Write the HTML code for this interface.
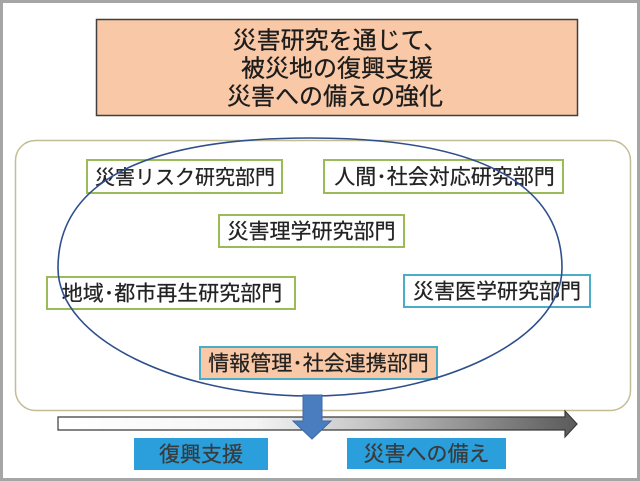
<!DOCTYPE html>
<html>
<head>
<meta charset="utf-8">
<style>
  html,body{margin:0;padding:0;background:#fff;}
  svg{display:block;}
  text{font-family:"Liberation Sans","Noto Sans CJK JP",sans-serif;}
</style>
</head>
<body>
<svg width="640" height="481" viewBox="0 0 640 481" xmlns="http://www.w3.org/2000/svg">
  <defs>
    <linearGradient id="g" gradientUnits="userSpaceOnUse" x1="58" y1="0" x2="577" y2="0">
      <stop offset="0" stop-color="#ffffff"/>
      <stop offset="0.38" stop-color="#f4f4f4"/>
      <stop offset="0.6" stop-color="#c4c4c4"/>
      <stop offset="1" stop-color="#5a5a5a"/>
    </linearGradient>
  </defs>
  <rect x="0" y="0" width="640" height="481" fill="#fff"/>
  <!-- outer frame -->
  <rect x="1.5" y="1.5" width="637" height="478" fill="none" stroke="#a6a6a6" stroke-width="3"/>

  <!-- title box -->
  <rect x="96.5" y="19.5" width="481" height="96" fill="#f9c8a6" stroke="#3f3f3f" stroke-width="1.5"/>
  <g fill="#1c1c1c" stroke="#1c1c1c" stroke-width="0.3" font-size="24">
    <text x="340" y="48.6" text-anchor="middle">災害研究を通じて、</text>
    <text x="337" y="76.6" text-anchor="middle">被災地の復興支援</text>
    <text x="335" y="104.6" text-anchor="middle">災害への備えの強化</text>
  </g>

  <!-- rounded container -->
  <rect x="15.5" y="140.5" width="615" height="270" rx="20" ry="20" fill="#fff" stroke="#c3bc94" stroke-width="1.5"/>

  <!-- department boxes -->
  <rect x="87" y="160" width="195" height="33" fill="#fff" stroke="#9bbb59" stroke-width="2"/>
  <rect x="324" y="160" width="239" height="33" fill="#fff" stroke="#9bbb59" stroke-width="2"/>
  <rect x="219" y="215" width="185" height="32" fill="#fff" stroke="#9bbb59" stroke-width="2"/>
  <rect x="47" y="277" width="248" height="32" fill="#fff" stroke="#9bbb59" stroke-width="2"/>
  <rect x="404" y="275" width="186" height="32" fill="#fff" stroke="#4bacc6" stroke-width="2"/>
  <rect x="200" y="347" width="237" height="32" fill="#f9c8a6" stroke="#4bacc6" stroke-width="2"/>

  <g fill="#222" stroke="#222" stroke-width="0.25" text-anchor="middle">
    <text x="185" y="184.1" font-size="20">災害リスク研究部門</text>
    <text x="444.5" y="184.1" font-size="21">人間･社会対応研究部門</text>
    <text x="311.5" y="238.6" font-size="21">災害理学研究部門</text>
    <text x="172" y="300.6" font-size="21">地域･都市再生研究部門</text>
    <text x="497" y="298.6" font-size="21">災害医学研究部門</text>
    <text x="318.5" y="370.6" font-size="21">情報管理･社会連携部門</text>
  </g>

  <!-- ellipse -->
  <path d="M310,138 C510,138 562,202 562,268 C562,340 440,396 310,396 C180,396 58,340 58,268 C58,202 110,138 310,138 Z" fill="none" stroke="#2f4f8c" stroke-width="1.6"/>

  <!-- gray timeline arrow -->
  <path d="M58,417 L565,417 L565,411 L577,424 L565,437 L565,430 L58,430 Z" fill="url(#g)" stroke="#3a3a3a" stroke-width="1.2"/>

  <!-- blue down arrow -->
  <path d="M303,395 L322,395 L322,421 L331,421 L312,439 L293,421 L303,421 Z" fill="#4a7dc0" stroke="#3b69a6" stroke-width="1"/>

  <!-- bottom boxes -->
  <rect x="134" y="438" width="134" height="32" fill="#2a9fdb"/>
  <rect x="347" y="438" width="159" height="31" fill="#2a9fdb"/>
  <g fill="#3a3a3a" stroke="#3a3a3a" stroke-width="0.25" font-size="21" text-anchor="middle">
    <text x="201" y="461.6">復興支援</text>
    <text x="426.5" y="461.1">災害への備え</text>
  </g>
</svg>
</body>
</html>
